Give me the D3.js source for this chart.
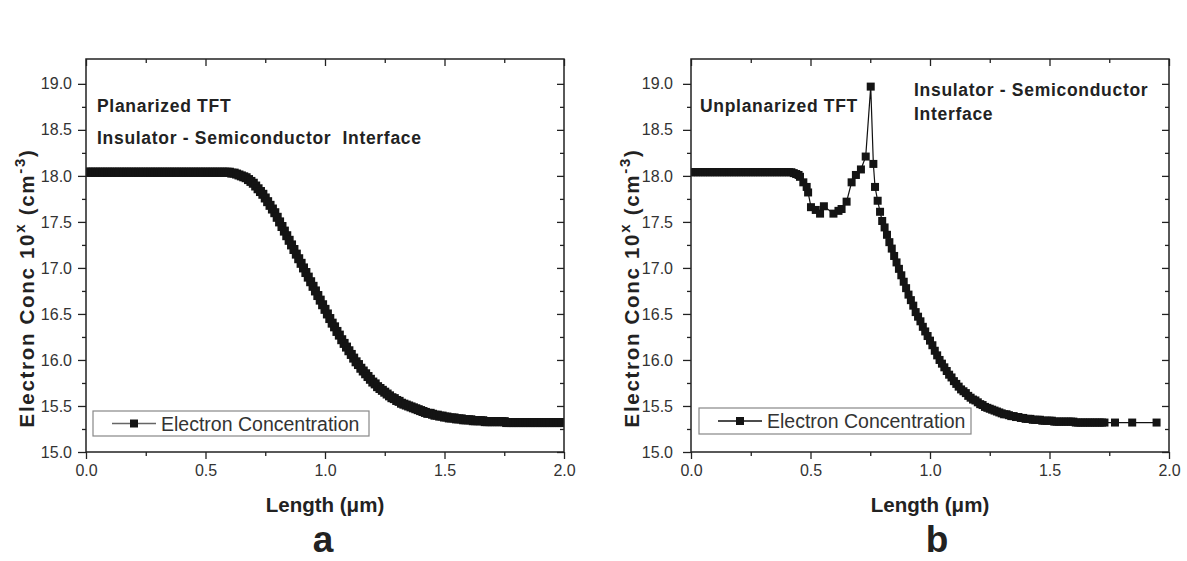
<!DOCTYPE html>
<html><head><meta charset="utf-8">
<script src="https://cdn.jsdelivr.net/npm/d3@7"></script>
<style>body{margin:0;background:#fff}svg{display:block}</style>
</head><body><svg id="c" width="1187" height="561"></svg>
<script>
// ---------- data ----------
const xTickMajor = [0.0, 0.5, 1.0, 1.5, 2.0];
const xTickMinor = [0.25, 0.75, 1.25, 1.75];
const yTickMajor = [15.0, 15.5, 16.0, 16.5, 17.0, 17.5, 18.0, 18.5, 19.0];
const yTickMinor = [15.25, 15.75, 16.25, 16.75, 17.25, 17.75, 18.25, 18.75];
const seriesName = "Electron Concentration";
const panelLetters = ["a", "b"];
const xTitle = "Length (\u03bcm)";

// Panel a : planarized TFT
const leftX = [
0.00,0.01,0.02,0.03,0.04,0.05,0.06,0.07,0.08,0.09,0.10,0.11,0.12,0.13,0.14,0.15,0.16,0.17,0.18,0.19,
0.20,0.21,0.22,0.23,0.24,0.25,0.26,0.27,0.28,0.29,0.30,0.31,0.32,0.33,0.34,0.35,0.36,0.37,0.38,0.39,
0.40,0.41,0.42,0.43,0.44,0.45,0.46,0.47,0.48,0.49,0.50,0.51,0.52,0.53,0.54,0.55,0.56,0.57,0.58,0.59,
0.60,0.61,0.62,0.63,0.64,0.65,0.66,0.67,0.68,0.69,0.70,0.71,0.72,0.73,0.74,0.75,0.76,0.77,0.78,0.79,
0.80,0.81,0.82,0.83,0.84,0.85,0.86,0.87,0.88,0.89,0.90,0.91,0.92,0.93,0.94,0.95,0.96,0.97,0.98,0.99,
1.00,1.01,1.02,1.03,1.04,1.05,1.06,1.07,1.08,1.09,1.10,1.11,1.12,1.13,1.14,1.15,1.16,1.17,1.18,1.19,
1.20,1.21,1.22,1.23,1.24,1.25,1.26,1.27,1.28,1.29,1.30,1.31,1.32,1.33,1.34,1.35,1.36,1.37,1.38,1.39,
1.40,1.41,1.42,1.43,1.44,1.45,1.46,1.47,1.48,1.49,1.50,1.51,1.52,1.53,1.54,1.55,1.56,1.57,1.58,1.59,
1.60,1.61,1.62,1.63,1.64,1.65,1.66,1.67,1.68,1.69,1.70,1.71,1.72,1.73,1.74,1.75,1.76,1.77,1.78,1.79,
1.80,1.81,1.82,1.83,1.84,1.85,1.86,1.87,1.88,1.89,1.90,1.91,1.92,1.93,1.94,1.95,1.96,1.97,1.98,1.99,
2.00];
const leftY = [
18.04,18.04,18.04,18.04,18.04,18.04,18.04,18.04,18.04,18.04,18.04,18.04,18.04,18.04,18.04,18.04,18.04,18.04,18.04,18.04,
18.04,18.04,18.04,18.04,18.04,18.04,18.04,18.04,18.04,18.04,18.04,18.04,18.04,18.04,18.04,18.04,18.04,18.04,18.04,18.04,
18.04,18.04,18.04,18.04,18.04,18.04,18.04,18.04,18.04,18.04,18.04,18.04,18.04,18.04,18.04,18.04,18.04,18.04,18.04,18.04,
18.04,18.03,18.03,18.02,18.01,18.00,17.99,17.98,17.96,17.94,17.92,17.89,17.86,17.83,17.80,17.76,17.72,17.68,17.64,17.60,
17.55,17.50,17.45,17.40,17.35,17.30,17.25,17.20,17.15,17.10,17.05,17.00,16.95,16.90,16.85,16.80,16.75,16.70,16.65,16.60,
16.55,16.50,16.45,16.40,16.36,16.31,16.27,16.22,16.18,16.14,16.10,16.06,16.02,15.98,15.95,15.91,15.88,15.85,15.82,15.79,
15.76,15.74,15.71,15.69,15.67,15.65,15.63,15.61,15.59,15.58,15.56,15.55,15.53,15.52,15.51,15.50,15.49,15.48,15.47,15.46,
15.45,15.44,15.43,15.42,15.42,15.41,15.40,15.40,15.39,15.39,15.38,15.38,15.37,15.37,15.37,15.36,15.36,15.36,15.35,15.35,
15.35,15.35,15.34,15.34,15.34,15.34,15.34,15.33,15.33,15.33,15.33,15.33,15.33,15.33,15.33,15.33,15.32,15.32,15.32,15.32,
15.32,15.32,15.32,15.32,15.32,15.32,15.32,15.32,15.32,15.32,15.32,15.32,15.32,15.32,15.32,15.32,15.32,15.32,15.32,15.32,
15.32];

// Panel b : unplanarized TFT
const rightX = [
0.00,0.01,0.02,0.03,0.04,0.05,0.06,0.07,0.08,0.09,0.10,0.11,0.12,0.13,0.14,0.15,0.16,0.17,0.18,0.19,
0.20,0.21,0.22,0.23,0.24,0.25,0.26,0.27,0.28,0.29,0.30,0.31,0.32,0.33,0.34,0.35,0.36,0.37,0.38,0.39,
0.40,0.41,0.42,0.43,0.44,0.45,0.456,0.470,0.484,0.490,
0.502,0.522,0.540,0.556,0.596,0.617,0.630,0.651,0.672,0.690,0.711,0.731,0.752,0.763,0.770,0.781,0.791,0.800,
0.81,0.82,0.83,0.84,0.85,0.86,0.87,0.88,0.89,0.90,0.91,0.92,0.93,0.94,0.95,0.96,0.97,0.98,0.99,
1.00,1.01,1.02,1.03,1.04,1.05,1.06,1.07,1.08,1.09,1.10,1.11,1.12,1.13,1.14,1.15,1.16,1.17,1.18,1.19,
1.20,1.21,1.22,1.23,1.24,1.25,1.26,1.27,1.28,1.29,1.30,1.31,1.32,1.33,1.34,1.35,1.36,1.37,1.38,1.39,
1.40,1.41,1.42,1.43,1.44,1.45,1.46,1.47,1.48,1.49,1.50,1.51,1.52,1.53,1.54,1.55,1.56,1.57,1.58,1.59,
1.60,1.61,1.62,1.63,1.64,1.65,1.66,1.67,1.68,1.69,1.70,1.71,1.72,1.73,
1.774,1.846,1.948];
const rightY = [
18.04,18.04,18.04,18.04,18.04,18.04,18.04,18.04,18.04,18.04,18.04,18.04,18.04,18.04,18.04,18.04,18.04,18.04,18.04,18.04,
18.04,18.04,18.04,18.04,18.04,18.04,18.04,18.04,18.04,18.04,18.04,18.04,18.04,18.04,18.04,18.04,18.04,18.04,18.04,18.04,
18.04,18.04,18.04,18.03,18.02,18.01,17.99,17.93,17.88,17.82,
17.66,17.63,17.59,17.67,17.59,17.62,17.64,17.72,17.93,18.01,18.07,18.21,18.97,18.13,17.88,17.73,17.61,17.51,
17.44,17.36,17.28,17.21,17.13,17.06,16.99,16.92,16.85,16.78,16.71,16.65,16.59,16.52,16.47,16.42,16.36,16.31,16.26,
16.21,16.16,16.10,16.05,16.00,15.96,15.92,15.88,15.84,15.81,15.77,15.74,15.71,15.68,15.66,15.64,15.61,15.59,15.57,15.56,
15.54,15.52,15.51,15.49,15.48,15.47,15.46,15.45,15.44,15.43,15.42,15.41,15.41,15.40,15.39,15.39,15.38,15.38,15.37,15.37,
15.36,15.36,15.36,15.35,15.35,15.35,15.35,15.34,15.34,15.34,15.34,15.34,15.33,15.33,15.33,15.33,15.33,15.33,15.33,15.33,
15.33,15.32,15.32,15.32,15.32,15.32,15.32,15.32,15.32,15.32,15.32,15.32,15.32,15.32,
15.32,15.32,15.32];

// ---------- drawing ----------
const svg = d3.select("#c");
svg.append("rect").attr("width",1187).attr("height",561).attr("fill","#ffffff");
const FONT = "'Liberation Sans', Arial, Helvetica, sans-serif";
const fmt = d3.format(".1f");

const panels = [
  { left: 86, xs: leftX, ys: leftY, lineColor: "#666", labelPad: 6, yTitleX: 34, markSize: 9,
    notes: [ {t:"Planarized TFT", x:97, y:112}, {t:"Insulator - Semiconductor  Interface", x:97, y:144} ],
    legend: {x:93, y:411, w:276, h:25}, letter: panelLetters[0], letterX: 323 },
  { left: 691, xs: rightX, ys: rightY, lineColor: "#111", labelPad: 10, yTitleX: 639, markSize: 8,
    notes: [ {t:"Unplanarized TFT", x:700, y:112}, {t:"Insulator - Semiconductor", x:914, y:96}, {t:"Interface", x:914, y:120} ],
    legend: {x:699, y:408, w:272, h:26}, letter: panelLetters[1], letterX: 937 }
];

const TOP = 59, BOT = 452, W = 478;

panels.forEach((p, i) => {
  const g = svg.append("g");
  const x = d3.scaleLinear().domain([0, 2]).range([p.left, p.left + W]);
  const y = d3.scaleLinear().domain([15, 19.27]).range([BOT, TOP]);

  const styleAxis = sel => {
    sel.select(".domain").remove();
    sel.selectAll("line").attr("stroke", "#222").attr("stroke-width", 1.3);
    sel.selectAll("text").attr("font-family", FONT).attr("font-size", 16).attr("fill", "#333");
  };

  // bottom
  g.append("g").attr("transform", `translate(0,${BOT})`)
    .call(d3.axisBottom(x).tickValues(xTickMajor).tickSize(7).tickPadding(6).tickFormat(fmt)).call(styleAxis);
  g.append("g").attr("transform", `translate(0,${BOT})`)
    .call(d3.axisBottom(x).tickValues(xTickMinor).tickSize(4).tickFormat("")).call(styleAxis);
  // top (inward)
  g.append("g").attr("transform", `translate(0,${TOP})`)
    .call(d3.axisBottom(x).tickValues(xTickMajor).tickSize(7).tickFormat("")).call(styleAxis);
  g.append("g").attr("transform", `translate(0,${TOP})`)
    .call(d3.axisBottom(x).tickValues(xTickMinor).tickSize(4).tickFormat("")).call(styleAxis);
  // left
  g.append("g").attr("transform", `translate(${p.left},0)`)
    .call(d3.axisLeft(y).tickValues(yTickMajor).tickSize(8).tickPadding(p.labelPad).tickFormat(fmt)).call(styleAxis);
  g.append("g").attr("transform", `translate(${p.left},0)`)
    .call(d3.axisLeft(y).tickValues(yTickMinor).tickSize(4).tickFormat("")).call(styleAxis);
  // right (inward)
  g.append("g").attr("transform", `translate(${p.left + W},0)`)
    .call(d3.axisLeft(y).tickValues(yTickMajor).tickSize(7).tickFormat("")).call(styleAxis);
  g.append("g").attr("transform", `translate(${p.left + W},0)`)
    .call(d3.axisLeft(y).tickValues(yTickMinor).tickSize(4).tickFormat("")).call(styleAxis);

  // clip
  const cid = "clip" + i;
  svg.append("clipPath").attr("id", cid).append("rect")
    .attr("x", p.left).attr("y", TOP).attr("width", W).attr("height", BOT - TOP);

  const pts = p.xs.map((v, k) => [v, p.ys[k]]);
  const data = g.append("g").attr("clip-path", `url(#${cid})`);
  data.append("path").attr("d", d3.line().x(d => x(d[0])).y(d => y(d[1]))(pts))
    .attr("fill", "none").attr("stroke", p.lineColor).attr("stroke-width", 1.2);
  const S = p.markSize;
  data.selectAll("rect.m").data(pts).join("rect").attr("class", "m")
    .attr("x", d => x(d[0]) - S / 2).attr("y", d => y(d[1]) - S / 2)
    .attr("width", S).attr("height", S).attr("fill", "#141414");

  // frame
  g.append("rect").attr("x", p.left).attr("y", TOP).attr("width", W).attr("height", BOT - TOP)
    .attr("fill", "none").attr("stroke", "#222").attr("stroke-width", 1.5);

  // annotations
  p.notes.forEach(n => {
    g.append("text").attr("x", n.x).attr("y", n.y).text(n.t)
      .attr("font-family", FONT).attr("font-weight", "bold").attr("font-size", 17.5)
      .attr("letter-spacing", 0.7).attr("fill", "#222").style("white-space", "pre");
  });

  // legend
  const L = p.legend;
  g.append("rect").attr("x", L.x).attr("y", L.y).attr("width", L.w).attr("height", L.h)
    .attr("fill", "#fff").attr("stroke", "#888").attr("stroke-width", 1.2);
  const cy = L.y + L.h / 2;
  g.append("line").attr("x1", L.x + 19).attr("x2", L.x + 63).attr("y1", cy).attr("y2", cy)
    .attr("stroke", p.lineColor).attr("stroke-width", 1.5);
  g.append("rect").attr("x", L.x + 41 - 4).attr("y", cy - 4).attr("width", 8).attr("height", 8).attr("fill", "#141414");
  g.append("text").attr("x", L.x + 68).attr("y", cy + 7).text(seriesName)
    .attr("font-family", FONT).attr("font-size", 19.5).attr("fill", "#333");

  // x title
  g.append("text").attr("x", p.left + W / 2).attr("y", 512).attr("text-anchor", "middle")
    .text(xTitle).attr("font-family", FONT).attr("font-weight", "bold").attr("font-size", 20.5).attr("fill", "#222");

  // y title
  const yt = g.append("text").attr("transform", `translate(${p.yTitleX},288) rotate(-90)`)
    .attr("text-anchor", "middle").attr("font-family", FONT).attr("font-weight", "bold")
    .attr("font-size", 20.5).attr("letter-spacing", 1.7).attr("fill", "#222");
  yt.append("tspan").text("Electron Conc 10");
  yt.append("tspan").text("x").attr("font-size", 15).attr("dy", -9);
  yt.append("tspan").text(" (cm").attr("dy", 9);
  yt.append("tspan").text("-3").attr("font-size", 15).attr("dy", -9);
  yt.append("tspan").text(")").attr("dy", 9);

  // panel letter
  g.append("text").attr("x", p.letterX).attr("y", 552).attr("text-anchor", "middle").text(p.letter)
    .attr("font-family", FONT).attr("font-weight", "bold")
    .attr("font-size", 37).attr("fill", "#222");
});
</script></body></html>
